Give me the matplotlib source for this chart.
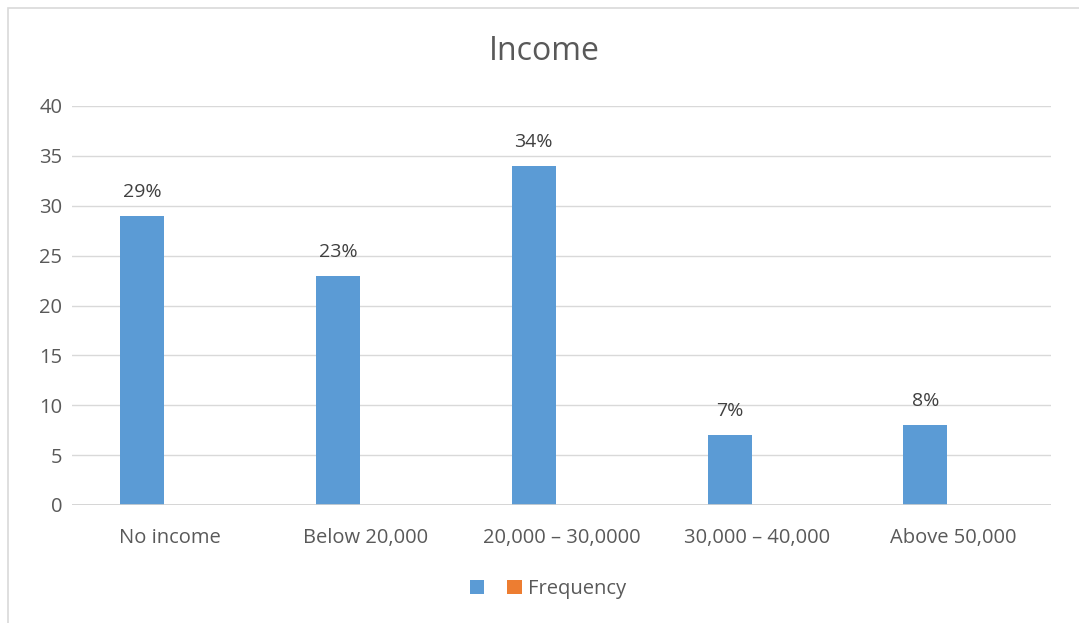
import numpy as np
import matplotlib.pyplot as plt
from matplotlib.patches import Rectangle

# income groups and counts
categories = ["No income", "Below 20,000", "20,000 \u2013 30,0000", "30,000 \u2013 40,000", "Above 50,000"]
counts = [29, 23, 34, 7, 8]
frequency = [0, 0, 0, 0, 0]
pct_labels = ["29%", "23%", "34%", "7%", "8%"]

plt.rcParams['font.family'] = ['Open Sans', 'DejaVu Sans']
grey = "#595959"

fig = plt.figure(figsize=(10.79, 6.23), dpi=100)
ax = fig.add_axes([72/1079, 1 - 505/623, (1051-72)/1079, (505-106)/623])

# outer chart border (runs off the right and bottom edges)
fig.patches.append(Rectangle((8/1079, -0.1), 1.2, 1 - 8/623 + 0.1, transform=fig.transFigure,
                             fill=False, edgecolor="#d9d9d9", linewidth=1.2))

x = np.arange(len(categories))
w = 0.225
b1 = ax.bar(x - 0.1415, counts, w, color="#5b9bd5", label="")
b2 = ax.bar(x + 0.1415, frequency, w, color="#ed7d31", label="Frequency")

for xi, v, t in zip(x, counts, pct_labels):
    ax.text(xi - 0.1415, v + 2.4, t, ha="center", va="center", fontsize=14, color="#404040")

ax.set_xlim(-0.5, len(categories) - 0.5)
ax.set_ylim(0, 40)
ax.set_yticks(range(0, 41, 5))
ax.set_xticks(x)
ax.set_xticklabels(categories)
ax.grid(axis="y", color="#d9d9d9", linewidth=1)
ax.set_axisbelow(True)
for s in ax.spines.values():
    s.set_visible(False)
ax.axhline(0, color="#d0d0d0", linewidth=1.2)
ax.tick_params(length=0, labelsize=14.5, colors=grey)
ax.tick_params(axis="x", pad=16.5)
ax.tick_params(axis="y", pad=7)

fig.text(544/1079, 1 - 52/623, "Income", ha="center", va="center", fontsize=23, color=grey)

fig.legend(handles=[b1, b2], labels=["", "Frequency"], loc="center", bbox_to_anchor=(548/1079, 1 - 589/623),
           ncol=2, frameon=False, fontsize=14.5, labelcolor=grey, handlelength=0.7, handleheight=0.7,
           columnspacing=0.85, handletextpad=0.3)

fig.savefig("out.png", dpi=100)
